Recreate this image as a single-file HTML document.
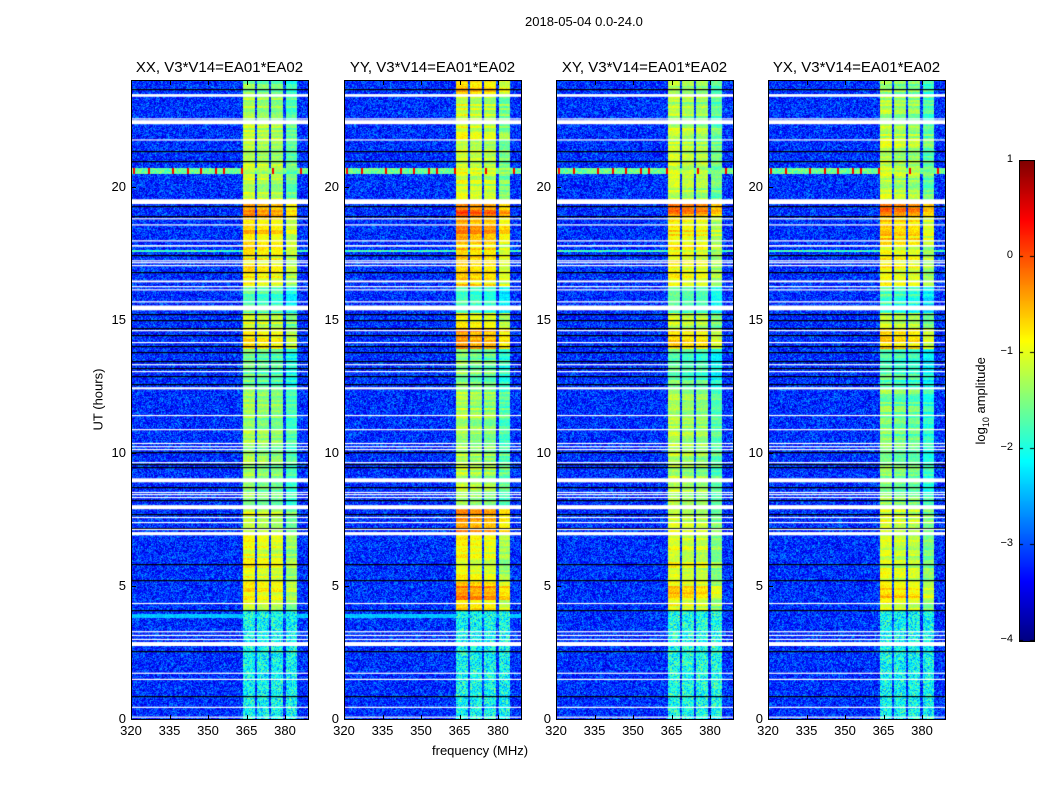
<!DOCTYPE html>
<html><head><meta charset="utf-8">
<style>
body{margin:0;background:#fff;}
#root{position:relative;width:1050px;height:800px;background:#fff;font-family:"Liberation Sans",sans-serif;overflow:hidden;}
.t{position:absolute;white-space:nowrap;color:#000;}
canvas{position:absolute;}
.frame{position:absolute;border:1px solid #000;box-sizing:border-box;pointer-events:none;}
</style></head>
<body>
<div id="root">
<div class="t" style="left:525px;top:14px;font-size:13px;">2018-05-04 0.0-24.0</div>
<div class="t" style="left:48px;top:392px;width:100px;text-align:center;font-size:13px;transform:rotate(-90deg);">UT (hours)</div>
<div class="t" style="left:432px;top:743px;font-size:13px;">frequency (MHz)</div>
<div class="t" style="left:922px;top:392px;width:120px;text-align:center;font-size:13px;transform:rotate(-90deg);">log<sub style="font-size:9px">10</sub> amplitude</div>
</div>
<script>
const panelTitles = ["XX, V3*V14=EA01*EA02","YY, V3*V14=EA01*EA02","XY, V3*V14=EA01*EA02","YX, V3*V14=EA01*EA02"];
const xTicks = [320,335,350,365,380];
const yTicks = [0,5,10,15,20];
const cbTicks = [1,0,-1,-2,-3,-4];
const freqBands = [[363.6,368.3],[369,373.7],[374.5,379.2],[380,384.6]];
const bandOffsets = [0.15,0.05,0,-0.3];
const segStarts = [0,4.1,4.5,5.0,5.4,7.0,8.0,12.4,13.9,14.7,15.3,16.3,18.0,18.9,19.5,22.3,23.4];
const segEnds   = [4.1,4.5,5.0,5.4,7.0,8.0,12.4,13.9,14.7,15.25,16.3,18.0,18.9,19.35,22.3,23.4,24];
const levelsXX = [-2.1,-1.1,-0.9,-1.1,-1.1,-1.2,-1.5,-1.7,-0.9,-1.2,-1.8,-1.0,-0.8,-0.4,-1.3,-1.4,-1.6];
const levelsYY = [-2.1,-0.9,-0.4,-0.9,-1.0,-0.6,-1.4,-1.6,-0.5,-1.0,-1.9,-0.8,-0.5,-0.2,-1.2,-1.2,-0.7];
const levelsXY = [-2.0,-1.1,-0.8,-1.1,-1.1,-1.2,-1.4,-1.7,-0.9,-1.2,-1.8,-1.0,-0.9,-0.3,-1.3,-1.4,-1.4];
const levelsYX = [-2.1,-1.1,-0.8,-1.1,-1.2,-1.2,-1.6,-1.8,-0.8,-1.2,-1.9,-1.0,-0.8,-0.3,-1.3,-1.4,-1.5];
const backgroundLevel = -3.15;
const flaggedStart = [23.37,22.52,22.34,21.73,19.34,18.77,18.54,17.94,17.74,17.19,17.12,17.01,16.40,16.22,16.10,15.65,15.35,14.57,14.12,13.29,13.03,12.38,11.38,10.85,10.33,10.21,10.10,9.61,8.89,8.49,8.41,8.30,7.88,7.55,7.36,7.10,6.90,4.32,3.26,3.12,2.97,2.74,1.70,1.47,0.42,0.05];
const flaggedEnd   = [23.47,22.56,22.49,21.77,19.52,18.81,18.58,17.98,17.80,17.23,17.16,17.05,16.47,16.26,16.14,15.69,15.53,14.61,14.16,13.33,13.07,12.46,11.42,10.89,10.37,10.25,10.14,9.65,9.04,8.53,8.45,8.34,8.03,7.59,7.40,7.14,7.02,4.36,3.30,3.16,3.01,2.89,1.74,1.51,0.46,0.09];
const blackRows = [23.68,21.35,20.94,19.25,18.91,17.41,16.77,15.23,14.97,14.67,14.41,14.0,13.77,13.43,13.17,12.87,12.57,10.02,9.57,9.46,8.71,8.22,7.69,7.17,5.82,5.22,4.09,2.55,0.86];
const rfiRowHours = [20.6,17.6];
const rfiRowWidths = [0.22,0.1];
const rfiRowLevels = [-1.6,-1.8];
const spikeFreqs = [321,327,336,342,347,353,356,363,375,386];

const root = document.getElementById('root');
const panelLefts = [131,344,556,768];
const PT=80, PH=639, PW=177;
const fMin=320, fMax=320+PW/2.567;
const levelSets=[levelsXX,levelsYY,levelsXY,levelsYX];
function xScale(f){return (f-fMin)/(fMax-fMin)*PW;}
function yScale(h){return PH-(h/24)*PH;}
function jet(v){v=Math.max(0,Math.min(1,v));const c=x=>Math.round(255*Math.max(0,Math.min(1,1.5-Math.abs(x))));return [c(4*v-3),c(4*v-2),c(4*v-1)];}
function norm(l){return (l+4)/5;}
function hash(a,b,c){let h=(a*374761393+b*668265263+c*982451653)|0;h=(h^(h>>>13))*1274126177|0;h=h^(h>>>16);return ((h>>>0)%10000)/10000;}

function drawPanel(p){
  const L=panelLefts[p];
  const cv=document.createElement('canvas');
  cv.width=PW;cv.height=PH;
  cv.style.left=L+'px';cv.style.top=PT+'px';
  
  
  root.appendChild(cv);
  const ctx=cv.getContext('2d');
  const img=ctx.createImageData(PW,PH);
  const lv=levelSets[p];
  const bandPx=freqBands.map(b=>[xScale(b[0]),xScale(b[1])]);
  for(let y=0;y<PH;y++){
    const h=(PH-y)/PH*24;
    let seg=-1;
    for(let s=0;s<segStarts.length;s++){if(h>=segStarts[s]&&h<segEnds[s]){seg=s;break;}}
    const segLevel= seg>=0?lv[seg]:-2;
    const rowVar=(hash(y>>1,7,p)-0.5)*0.5;
    let rfi=null;
    for(let r=0;r<rfiRowHours.length;r++){if(Math.abs(h-rfiRowHours[r])<rfiRowWidths[r]/2)rfi=r;}
    for(let x=0;x<PW;x++){
      const n=hash(x,y,p)-0.5;
      const n2=hash(x>>1,y>>1,p+9)-0.5;
      let l=backgroundLevel+n*0.9+n2*0.4;
      if(h>3.8&&h<3.95&&p<2) l=-2.4+n*0.3;
      if(rfi!==null) l=Math.max(l,rfiRowLevels[rfi]+n*0.7);
      for(let b=0;b<bandPx.length;b++){
        if(x>=bandPx[b][0]&&x<bandPx[b][1]){
          l=segLevel+bandOffsets[b]+n*0.35+rowVar;
          if(seg===0) l=segLevel+n*1.1+n2*0.4;
        }
      }
      if(rfi===0){for(const sf of spikeFreqs){if(Math.abs(x-xScale(sf))<1)l=0.4;}}
      const c=jet(norm(l));
      const i=(y*PW+x)*4;
      img.data[i]=c[0];img.data[i+1]=c[1];img.data[i+2]=c[2];img.data[i+3]=255;
    }
  }
  ctx.putImageData(img,0,0);
  ctx.fillStyle='#000';
  for(const bh of blackRows){ctx.fillRect(0,Math.round(yScale(bh)),PW,1.2);}
  ctx.fillStyle='#fff';
  for(let k=0;k<flaggedStart.length;k++){
    const y0=yScale(flaggedEnd[k]),y1=yScale(flaggedStart[k]);
    ctx.fillRect(0,y0,PW,Math.max(1.2,y1-y0));
  }
  const fr=document.createElement('div');
  fr.className='frame';
  fr.style.cssText=`left:${L}px;top:${PT}px;width:${PW+1}px;height:${PH+1}px;`;
  
  
  root.appendChild(fr);
  const tt=document.createElement('div');
  tt.className='t';
  tt.textContent=panelTitles[p];
  tt.style.cssText=`left:${L-40}px;width:${PW+80}px;text-align:center;top:59px;font-size:15px;`;
  
  
  root.appendChild(tt);
  for(const f of xTicks){
    const x=L+xScale(f);
    for(const yy of [PT+PH-4,PT]){
      const tk=document.createElement('div');
      tk.style.cssText=`position:absolute;left:${x}px;top:${yy}px;width:1px;height:5px;background:#000;`;
      
      
      root.appendChild(tk);
    }
    const lb=document.createElement('div');
    lb.className='t';lb.textContent=f;
    lb.style.cssText=`left:${x-20}px;width:40px;text-align:center;top:${PT+PH+4}px;font-size:13px;`;
    
    
    root.appendChild(lb);
  }
  for(const h of yTicks){
    const y=PT+yScale(h);
    const tk=document.createElement('div');
    tk.style.cssText=`position:absolute;left:${L}px;top:${y}px;width:5px;height:1px;background:#000;`;
    
    
    root.appendChild(tk);
    const lb=document.createElement('div');
    lb.className='t';lb.textContent=h;
    lb.style.cssText=`left:${L-45}px;width:40px;text-align:right;top:${y-8}px;font-size:13px;`;
    
    
    root.appendChild(lb);
  }
}
for(let p=0;p<4;p++)drawPanel(p);

// colorbar
(function(){
  const CX=1019,CY=160,CW=15,CH=481;
  const cv=document.createElement('canvas');
  cv.width=CW;cv.height=CH;cv.style.left=CX+'px';cv.style.top=CY+'px';
  
  
  root.appendChild(cv);
  const ctx=cv.getContext('2d');
  for(let y=0;y<CH;y++){const c=jet(1-y/CH);ctx.fillStyle=`rgb(${c[0]},${c[1]},${c[2]})`;ctx.fillRect(0,y,CW,1);}
  ctx.fillStyle='#000';
  for(const v of cbTicks){const y=Math.round((1-v)/5*(CH-1));ctx.fillRect(0,y,4,1);ctx.fillRect(CW-4,y,4,1);}
  const fr=document.createElement('div');fr.className='frame';
  fr.style.cssText=`left:${CX}px;top:${CY}px;width:${CW+1}px;height:${CH+1}px;`;
  
  
  root.appendChild(fr);
  for(const v of cbTicks){
    const y=CY+(1-v)/5*(CH-1);
    const lb=document.createElement('div');lb.className='t';
    lb.textContent=v<0?'\u2212'+(-v):String(v);
    lb.style.cssText=`left:${CX-36}px;width:30px;text-align:right;top:${y-7}px;font-size:11px;`;
    
    
    root.appendChild(lb);
  }
})();
</script>
</body></html>
